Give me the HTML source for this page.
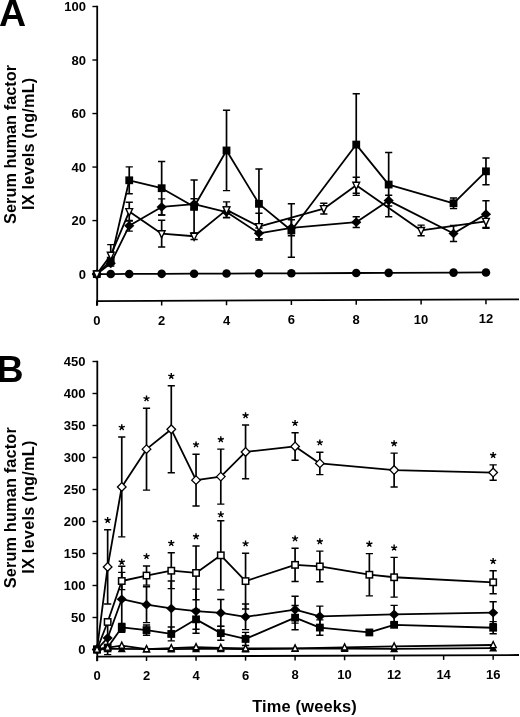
<!DOCTYPE html>
<html>
<head>
<meta charset="utf-8">
<title>Serum human factor IX levels</title>
<style>
html,body{margin:0;padding:0;background:#fff;}
body{width:520px;height:717px;overflow:hidden;position:relative;font-family:"Liberation Sans",sans-serif;}
</style>
</head>
<body>
<svg width="520" height="717" viewBox="0 0 520 717" style="position:absolute;left:0;top:0;display:block;filter:grayscale(1) blur(0.3px)">
<rect width="520" height="717" fill="#fff"/>
<g font-family="'Liberation Sans', sans-serif" font-weight="bold" fill="#000">
<text x="-1.1" y="26" font-size="37.5">A</text>
<text x="-3.4" y="381.5" font-size="37.5">B</text>
<text transform="translate(16,144.4) rotate(-90)" text-anchor="middle" font-size="16.3" letter-spacing="0.05">Serum human factor</text><text transform="translate(34.2,143.8) rotate(-90)" text-anchor="middle" font-size="16.3" letter-spacing="0.17">IX levels (ng/mL)</text>
<text transform="translate(16,507.7) rotate(-90)" text-anchor="middle" font-size="16.3" letter-spacing="0.16">Serum human factor</text><text transform="translate(34.2,507.09999999999997) rotate(-90)" text-anchor="middle" font-size="16.3" letter-spacing="0.24">IX levels (ng/mL)</text>
<text x="304.6" y="712" text-anchor="middle" font-size="16.4" letter-spacing="0.18">Time (weeks)</text>
<path d="M97.2 5.8V305.6" stroke="#000" stroke-width="1.8" fill="none"/>
<path d="M96.4 301.1L519 299.3" stroke="#000" stroke-width="1.8" fill="none"/>
<path d="M92.4 274.1H97.2" stroke="#000" stroke-width="1.4"/>
<text x="86" y="278.8" text-anchor="end" font-size="13">0</text>
<path d="M92.4 220.58H97.2" stroke="#000" stroke-width="1.4"/>
<text x="86" y="225.28" text-anchor="end" font-size="13">20</text>
<path d="M92.4 167.06H97.2" stroke="#000" stroke-width="1.4"/>
<text x="86" y="171.76" text-anchor="end" font-size="13">40</text>
<path d="M92.4 113.54H97.2" stroke="#000" stroke-width="1.4"/>
<text x="86" y="118.24" text-anchor="end" font-size="13">60</text>
<path d="M92.4 60.02H97.2" stroke="#000" stroke-width="1.4"/>
<text x="86" y="64.72" text-anchor="end" font-size="13">80</text>
<path d="M92.4 6.5H97.2" stroke="#000" stroke-width="1.4"/>
<text x="86" y="11.2" text-anchor="end" font-size="13">100</text>
<path d="M96.8 301.1V305.8" stroke="#000" stroke-width="1.5"/>
<text x="96.8" y="325.3" text-anchor="middle" font-size="13">0</text>
<path d="M161.66 300.82V305.52" stroke="#000" stroke-width="1.5"/>
<text x="161.66" y="325" text-anchor="middle" font-size="13">2</text>
<path d="M226.52 300.55V305.25" stroke="#000" stroke-width="1.5"/>
<text x="226.52" y="324.69" text-anchor="middle" font-size="13">4</text>
<path d="M291.38 300.27V304.97" stroke="#000" stroke-width="1.5"/>
<text x="291.38" y="324.39" text-anchor="middle" font-size="13">6</text>
<path d="M356.24 299.99V304.69" stroke="#000" stroke-width="1.5"/>
<text x="356.24" y="324.08" text-anchor="middle" font-size="13">8</text>
<path d="M421.1 299.72V304.42" stroke="#000" stroke-width="1.5"/>
<text x="421.1" y="323.78" text-anchor="middle" font-size="13">10</text>
<path d="M485.96 299.44V304.14" stroke="#000" stroke-width="1.5"/>
<text x="485.96" y="323.47" text-anchor="middle" font-size="13">12</text>
<path d="M97.3 360.8V661" stroke="#000" stroke-width="1.8" fill="none"/>
<path d="M96.5 656.6L519 655" stroke="#000" stroke-width="1.8" fill="none"/>
<path d="M92.5 649.5H97.3" stroke="#000" stroke-width="1.4"/>
<text x="85.5" y="654.2" text-anchor="end" font-size="13">0</text>
<path d="M92.5 617.5H97.3" stroke="#000" stroke-width="1.4"/>
<text x="85.5" y="622.2" text-anchor="end" font-size="13">50</text>
<path d="M92.5 585.5H97.3" stroke="#000" stroke-width="1.4"/>
<text x="85.5" y="590.2" text-anchor="end" font-size="13">100</text>
<path d="M92.5 553.5H97.3" stroke="#000" stroke-width="1.4"/>
<text x="85.5" y="558.2" text-anchor="end" font-size="13">150</text>
<path d="M92.5 521.5H97.3" stroke="#000" stroke-width="1.4"/>
<text x="85.5" y="526.2" text-anchor="end" font-size="13">200</text>
<path d="M92.5 489.5H97.3" stroke="#000" stroke-width="1.4"/>
<text x="85.5" y="494.2" text-anchor="end" font-size="13">250</text>
<path d="M92.5 457.5H97.3" stroke="#000" stroke-width="1.4"/>
<text x="85.5" y="462.2" text-anchor="end" font-size="13">300</text>
<path d="M92.5 425.5H97.3" stroke="#000" stroke-width="1.4"/>
<text x="85.5" y="430.2" text-anchor="end" font-size="13">350</text>
<path d="M92.5 393.5H97.3" stroke="#000" stroke-width="1.4"/>
<text x="85.5" y="398.2" text-anchor="end" font-size="13">400</text>
<path d="M92.5 361.5H97.3" stroke="#000" stroke-width="1.4"/>
<text x="85.5" y="366.2" text-anchor="end" font-size="13">450</text>
<path d="M97 656.6V661.2" stroke="#000" stroke-width="1.5"/>
<text x="97" y="680.2" text-anchor="middle" font-size="13">0</text>
<path d="M146.52 656.41V661.01" stroke="#000" stroke-width="1.5"/>
<text x="146.52" y="680.01" text-anchor="middle" font-size="13">2</text>
<path d="M196.04 656.22V660.82" stroke="#000" stroke-width="1.5"/>
<text x="196.04" y="679.82" text-anchor="middle" font-size="13">4</text>
<path d="M245.56 656.04V660.64" stroke="#000" stroke-width="1.5"/>
<text x="245.56" y="679.64" text-anchor="middle" font-size="13">6</text>
<path d="M295.08 655.85V660.45" stroke="#000" stroke-width="1.5"/>
<text x="295.08" y="679.45" text-anchor="middle" font-size="13">8</text>
<path d="M344.6 655.66V660.26" stroke="#000" stroke-width="1.5"/>
<text x="344.6" y="679.26" text-anchor="middle" font-size="13">10</text>
<path d="M394.12 655.47V660.07" stroke="#000" stroke-width="1.5"/>
<text x="394.12" y="679.07" text-anchor="middle" font-size="13">12</text>
<path d="M443.64 655.29V659.89" stroke="#000" stroke-width="1.5"/>
<text x="443.64" y="678.89" text-anchor="middle" font-size="13">14</text>
<path d="M493.16 655.1V659.7" stroke="#000" stroke-width="1.5"/>
<text x="493.16" y="678.7" text-anchor="middle" font-size="13">16</text>
</g>
<g>

<path d="M129.23 166.92V193.68" stroke="#000" stroke-width="1.7" fill="none"/>
<path d="M125.63 166.92H132.83M125.63 193.68H132.83" stroke="#000" stroke-width="1.4" fill="none"/>
<path d="M161.66 161.44V214.96" stroke="#000" stroke-width="1.7" fill="none"/>
<path d="M158.06 161.44H165.26M158.06 214.96H165.26" stroke="#000" stroke-width="1.4" fill="none"/>
<path d="M194.09 180.03V233.55" stroke="#000" stroke-width="1.7" fill="none"/>
<path d="M190.49 180.03H197.69M190.49 233.55H197.69" stroke="#000" stroke-width="1.4" fill="none"/>
<path d="M226.52 110.32V190.6" stroke="#000" stroke-width="1.7" fill="none"/>
<path d="M222.92 110.32H230.12M222.92 190.6H230.12" stroke="#000" stroke-width="1.4" fill="none"/>
<path d="M258.95 169.05V238.63" stroke="#000" stroke-width="1.7" fill="none"/>
<path d="M255.35 169.05H262.55M255.35 238.63H262.55" stroke="#000" stroke-width="1.4" fill="none"/>
<path d="M291.38 203.71V257.23" stroke="#000" stroke-width="1.7" fill="none"/>
<path d="M287.78 203.71H294.98M287.78 257.23H294.98" stroke="#000" stroke-width="1.4" fill="none"/>
<path d="M356.24 93.72V195.41" stroke="#000" stroke-width="1.7" fill="none"/>
<path d="M352.64 93.72H359.84M352.64 195.41H359.84" stroke="#000" stroke-width="1.4" fill="none"/>
<path d="M388.67 152.45V216.68" stroke="#000" stroke-width="1.7" fill="none"/>
<path d="M385.07 152.45H392.27M385.07 216.68H392.27" stroke="#000" stroke-width="1.4" fill="none"/>
<path d="M453.53 197.94V208.65" stroke="#000" stroke-width="1.7" fill="none"/>
<path d="M449.93 197.94H457.13M449.93 208.65H457.13" stroke="#000" stroke-width="1.4" fill="none"/>
<path d="M485.96 157.93V184.69" stroke="#000" stroke-width="1.7" fill="none"/>
<path d="M482.36 157.93H489.56M482.36 184.69H489.56" stroke="#000" stroke-width="1.4" fill="none"/>
<path d="M129.23 220.44V231.15" stroke="#000" stroke-width="1.7" fill="none"/>
<path d="M125.63 220.44H132.83M125.63 231.15H132.83" stroke="#000" stroke-width="1.4" fill="none"/>
<path d="M161.66 198.9V214.96" stroke="#000" stroke-width="1.7" fill="none"/>
<path d="M158.06 198.9H165.26M158.06 214.96H165.26" stroke="#000" stroke-width="1.4" fill="none"/>
<path d="M194.09 198.76V209.47" stroke="#000" stroke-width="1.7" fill="none"/>
<path d="M190.49 198.76H197.69M190.49 209.47H197.69" stroke="#000" stroke-width="1.4" fill="none"/>
<path d="M226.52 206.66V217.36" stroke="#000" stroke-width="1.7" fill="none"/>
<path d="M222.92 206.66H230.12M222.92 217.36H230.12" stroke="#000" stroke-width="1.4" fill="none"/>
<path d="M258.95 227.93V238.63" stroke="#000" stroke-width="1.7" fill="none"/>
<path d="M255.35 227.93H262.55M255.35 238.63H262.55" stroke="#000" stroke-width="1.4" fill="none"/>
<path d="M291.38 219.76V235.82" stroke="#000" stroke-width="1.7" fill="none"/>
<path d="M287.78 219.76H294.98M287.78 235.82H294.98" stroke="#000" stroke-width="1.4" fill="none"/>
<path d="M356.24 216.81V227.52" stroke="#000" stroke-width="1.7" fill="none"/>
<path d="M352.64 216.81H359.84M352.64 227.52H359.84" stroke="#000" stroke-width="1.4" fill="none"/>
<path d="M388.67 195.27V205.97" stroke="#000" stroke-width="1.7" fill="none"/>
<path d="M385.07 195.27H392.27M385.07 205.97H392.27" stroke="#000" stroke-width="1.4" fill="none"/>
<path d="M453.53 225.5V241.56" stroke="#000" stroke-width="1.7" fill="none"/>
<path d="M449.93 225.5H457.13M449.93 241.56H457.13" stroke="#000" stroke-width="1.4" fill="none"/>
<path d="M485.96 200.75V227.51" stroke="#000" stroke-width="1.7" fill="none"/>
<path d="M482.36 200.75H489.56M482.36 227.51H489.56" stroke="#000" stroke-width="1.4" fill="none"/>
<path d="M110.74 244.61V266.01" stroke="#000" stroke-width="1.7" fill="none"/>
<path d="M107.14 244.61H114.34M107.14 266.01H114.34" stroke="#000" stroke-width="1.4" fill="none"/>
<path d="M129.23 202.25V220.98" stroke="#000" stroke-width="1.7" fill="none"/>
<path d="M125.63 202.25H132.83M125.63 220.98H132.83" stroke="#000" stroke-width="1.4" fill="none"/>
<path d="M161.66 220.31V247.07" stroke="#000" stroke-width="1.7" fill="none"/>
<path d="M158.06 220.31H165.26M158.06 247.07H165.26" stroke="#000" stroke-width="1.4" fill="none"/>
<path d="M194.09 233.02V239.44" stroke="#000" stroke-width="1.7" fill="none"/>
<path d="M190.49 233.02H197.69M190.49 239.44H197.69" stroke="#000" stroke-width="1.4" fill="none"/>
<path d="M226.52 201.84V217.89" stroke="#000" stroke-width="1.7" fill="none"/>
<path d="M222.92 201.84H230.12M222.92 217.89H230.12" stroke="#000" stroke-width="1.4" fill="none"/>
<path d="M258.95 213.21V239.97" stroke="#000" stroke-width="1.7" fill="none"/>
<path d="M255.35 213.21H262.55M255.35 239.97H262.55" stroke="#000" stroke-width="1.4" fill="none"/>
<path d="M323.81 203.3V214.01" stroke="#000" stroke-width="1.7" fill="none"/>
<path d="M320.21 203.3H327.41M320.21 214.01H327.41" stroke="#000" stroke-width="1.4" fill="none"/>
<path d="M356.24 177.21V193.27" stroke="#000" stroke-width="1.7" fill="none"/>
<path d="M352.64 177.21H359.84M352.64 193.27H359.84" stroke="#000" stroke-width="1.4" fill="none"/>
<path d="M421.1 225.11V235.81" stroke="#000" stroke-width="1.7" fill="none"/>
<path d="M417.5 225.11H424.7M417.5 235.81H424.7" stroke="#000" stroke-width="1.4" fill="none"/>
<path d="M485.96 214.4V228.31" stroke="#000" stroke-width="1.7" fill="none"/>
<path d="M482.36 214.4H489.56M482.36 228.31H489.56" stroke="#000" stroke-width="1.4" fill="none"/>
<path d="M96.8 274.1L110.74 274.04L129.23 273.96L161.66 273.83L194.09 273.69L226.52 273.56L258.95 273.42L291.38 273.28L356.24 273.01L388.67 272.87L453.53 272.6L485.96 272.47" stroke="#000" stroke-width="1.8" fill="none" stroke-linejoin="round"/>
<circle cx="96.8" cy="274.1" r="4.3" fill="#000"/>
<circle cx="110.74" cy="274.04" r="4.3" fill="#000"/>
<circle cx="129.23" cy="273.96" r="4.3" fill="#000"/>
<circle cx="161.66" cy="273.83" r="4.3" fill="#000"/>
<circle cx="194.09" cy="273.69" r="4.3" fill="#000"/>
<circle cx="226.52" cy="273.56" r="4.3" fill="#000"/>
<circle cx="258.95" cy="273.42" r="4.3" fill="#000"/>
<circle cx="291.38" cy="273.28" r="4.3" fill="#000"/>
<circle cx="356.24" cy="273.01" r="4.3" fill="#000"/>
<circle cx="388.67" cy="272.87" r="4.3" fill="#000"/>
<circle cx="453.53" cy="272.6" r="4.3" fill="#000"/>
<circle cx="485.96" cy="272.47" r="4.3" fill="#000"/>
<path d="M96.8 274.1L110.74 260.66L129.23 180.3L161.66 188.2L194.09 206.79L226.52 150.46L258.95 203.84L291.38 230.47L356.24 144.56L388.67 184.57L453.53 203.29L485.96 171.31" stroke="#000" stroke-width="1.8" fill="none" stroke-linejoin="round"/>
<rect x="92.9" y="270.2" width="7.8" height="7.8" fill="#000"/>
<rect x="106.84" y="256.76" width="7.8" height="7.8" fill="#000"/>
<rect x="125.33" y="176.4" width="7.8" height="7.8" fill="#000"/>
<rect x="157.76" y="184.3" width="7.8" height="7.8" fill="#000"/>
<rect x="190.19" y="202.89" width="7.8" height="7.8" fill="#000"/>
<rect x="222.62" y="146.56" width="7.8" height="7.8" fill="#000"/>
<rect x="255.05" y="199.94" width="7.8" height="7.8" fill="#000"/>
<rect x="287.48" y="226.57" width="7.8" height="7.8" fill="#000"/>
<rect x="352.34" y="140.66" width="7.8" height="7.8" fill="#000"/>
<rect x="384.77" y="180.67" width="7.8" height="7.8" fill="#000"/>
<rect x="449.63" y="199.39" width="7.8" height="7.8" fill="#000"/>
<rect x="482.06" y="167.41" width="7.8" height="7.8" fill="#000"/>
<path d="M96.8 274.1L110.74 263.34L129.23 225.8L161.66 206.93L194.09 204.12L226.52 212.01L258.95 233.28L291.38 227.79L356.24 222.17L388.67 200.62L453.53 233.53L485.96 214.13" stroke="#000" stroke-width="1.8" fill="none" stroke-linejoin="round"/>
<path d="M91.7 274.1L96.8 269.3L101.9 274.1L96.8 278.9Z" fill="#000"/>
<path d="M105.64 263.34L110.74 258.54L115.84 263.34L110.74 268.14Z" fill="#000"/>
<path d="M124.13 225.8L129.23 221L134.33 225.8L129.23 230.6Z" fill="#000"/>
<path d="M156.56 206.93L161.66 202.13L166.76 206.93L161.66 211.73Z" fill="#000"/>
<path d="M188.99 204.12L194.09 199.32L199.19 204.12L194.09 208.92Z" fill="#000"/>
<path d="M221.42 212.01L226.52 207.21L231.62 212.01L226.52 216.81Z" fill="#000"/>
<path d="M253.85 233.28L258.95 228.48L264.05 233.28L258.95 238.08Z" fill="#000"/>
<path d="M286.28 227.79L291.38 222.99L296.48 227.79L291.38 232.59Z" fill="#000"/>
<path d="M351.14 222.17L356.24 217.37L361.34 222.17L356.24 226.97Z" fill="#000"/>
<path d="M383.57 200.62L388.67 195.82L393.77 200.62L388.67 205.42Z" fill="#000"/>
<path d="M448.43 233.53L453.53 228.73L458.63 233.53L453.53 238.33Z" fill="#000"/>
<path d="M480.86 214.13L485.96 209.33L491.06 214.13L485.96 218.93Z" fill="#000"/>
<path d="M96.8 274.1L110.74 255.31L129.23 211.61L161.66 233.69L194.09 236.23L226.52 209.87L258.95 226.59L323.81 208.65L356.24 185.24L421.1 230.46L485.96 221.35" stroke="#000" stroke-width="1.8" fill="none" stroke-linejoin="round"/>
<path d="M93.4 271.1L100.2 271.1L96.8 278.3Z" fill="#fff" stroke="#000" stroke-width="1.4" stroke-linejoin="miter"/>
<path d="M107.34 252.31L114.14 252.31L110.74 259.51Z" fill="#fff" stroke="#000" stroke-width="1.4" stroke-linejoin="miter"/>
<path d="M125.83 208.61L132.63 208.61L129.23 215.81Z" fill="#fff" stroke="#000" stroke-width="1.4" stroke-linejoin="miter"/>
<path d="M158.26 230.69L165.06 230.69L161.66 237.89Z" fill="#fff" stroke="#000" stroke-width="1.4" stroke-linejoin="miter"/>
<path d="M190.69 233.23L197.49 233.23L194.09 240.43Z" fill="#fff" stroke="#000" stroke-width="1.4" stroke-linejoin="miter"/>
<path d="M223.12 206.87L229.92 206.87L226.52 214.07Z" fill="#fff" stroke="#000" stroke-width="1.4" stroke-linejoin="miter"/>
<path d="M255.55 223.59L262.35 223.59L258.95 230.79Z" fill="#fff" stroke="#000" stroke-width="1.4" stroke-linejoin="miter"/>
<path d="M320.41 205.65L327.21 205.65L323.81 212.85Z" fill="#fff" stroke="#000" stroke-width="1.4" stroke-linejoin="miter"/>
<path d="M352.84 182.24L359.64 182.24L356.24 189.44Z" fill="#fff" stroke="#000" stroke-width="1.4" stroke-linejoin="miter"/>
<path d="M417.7 227.46L424.5 227.46L421.1 234.66Z" fill="#fff" stroke="#000" stroke-width="1.4" stroke-linejoin="miter"/>
<path d="M482.56 218.35L489.36 218.35L485.96 225.55Z" fill="#fff" stroke="#000" stroke-width="1.4" stroke-linejoin="miter"/>
</g>
<g>
<path d="M107.65 529.81V604.05" stroke="#000" stroke-width="1.7" fill="none"/>
<path d="M104.05 529.81H111.25M104.05 604.05H111.25" stroke="#000" stroke-width="1.4" fill="none"/>
<path d="M121.76 437V536.84" stroke="#000" stroke-width="1.7" fill="none"/>
<path d="M118.16 437H125.36M118.16 536.84H125.36" stroke="#000" stroke-width="1.4" fill="none"/>
<path d="M146.52 408.18V490.1" stroke="#000" stroke-width="1.7" fill="none"/>
<path d="M142.92 408.18H150.12M142.92 490.1H150.12" stroke="#000" stroke-width="1.4" fill="none"/>
<path d="M171.28 385.76V472.8" stroke="#000" stroke-width="1.7" fill="none"/>
<path d="M167.68 385.76H174.88M167.68 472.8H174.88" stroke="#000" stroke-width="1.4" fill="none"/>
<path d="M196.04 454.22V506.06" stroke="#000" stroke-width="1.7" fill="none"/>
<path d="M192.44 454.22H199.64M192.44 506.06H199.64" stroke="#000" stroke-width="1.4" fill="none"/>
<path d="M220.8 449.08V504.12" stroke="#000" stroke-width="1.7" fill="none"/>
<path d="M217.2 449.08H224.4M217.2 504.12H224.4" stroke="#000" stroke-width="1.4" fill="none"/>
<path d="M245.56 425.06V478.82" stroke="#000" stroke-width="1.7" fill="none"/>
<path d="M241.96 425.06H249.16M241.96 478.82H249.16" stroke="#000" stroke-width="1.4" fill="none"/>
<path d="M295.08 432.7V460.22" stroke="#000" stroke-width="1.7" fill="none"/>
<path d="M291.48 432.7H298.68M291.48 460.22H298.68" stroke="#000" stroke-width="1.4" fill="none"/>
<path d="M319.84 452.2V474.6" stroke="#000" stroke-width="1.7" fill="none"/>
<path d="M316.24 452.2H323.44M316.24 474.6H323.44" stroke="#000" stroke-width="1.4" fill="none"/>
<path d="M394.12 453.1V487.02" stroke="#000" stroke-width="1.7" fill="none"/>
<path d="M390.52 453.1H397.72M390.52 487.02H397.72" stroke="#000" stroke-width="1.4" fill="none"/>
<path d="M493.16 464.86V480.22" stroke="#000" stroke-width="1.7" fill="none"/>
<path d="M489.56 464.86H496.76M489.56 480.22H496.76" stroke="#000" stroke-width="1.4" fill="none"/>
<path d="M121.76 572.36V589.64" stroke="#000" stroke-width="1.7" fill="none"/>
<path d="M118.16 572.36H125.36M118.16 589.64H125.36" stroke="#000" stroke-width="1.4" fill="none"/>
<path d="M146.52 565.94V585.14" stroke="#000" stroke-width="1.7" fill="none"/>
<path d="M142.92 565.94H150.12M142.92 585.14H150.12" stroke="#000" stroke-width="1.4" fill="none"/>
<path d="M171.28 552.8V588.64" stroke="#000" stroke-width="1.7" fill="none"/>
<path d="M167.68 552.8H174.88M167.68 588.64H174.88" stroke="#000" stroke-width="1.4" fill="none"/>
<path d="M196.04 546.06V599.82" stroke="#000" stroke-width="1.7" fill="none"/>
<path d="M192.44 546.06H199.64M192.44 599.82H199.64" stroke="#000" stroke-width="1.4" fill="none"/>
<path d="M220.8 520.76V589.88" stroke="#000" stroke-width="1.7" fill="none"/>
<path d="M217.2 520.76H224.4M217.2 589.88H224.4" stroke="#000" stroke-width="1.4" fill="none"/>
<path d="M245.56 553.19V609" stroke="#000" stroke-width="1.7" fill="none"/>
<path d="M241.96 553.19H249.16M241.96 609H249.16" stroke="#000" stroke-width="1.4" fill="none"/>
<path d="M295.08 548.22V581.5" stroke="#000" stroke-width="1.7" fill="none"/>
<path d="M291.48 548.22H298.68M291.48 581.5H298.68" stroke="#000" stroke-width="1.4" fill="none"/>
<path d="M319.84 551.08V581.8" stroke="#000" stroke-width="1.7" fill="none"/>
<path d="M316.24 551.08H323.44M316.24 581.8H323.44" stroke="#000" stroke-width="1.4" fill="none"/>
<path d="M369.36 553.6V595.84" stroke="#000" stroke-width="1.7" fill="none"/>
<path d="M365.76 553.6H372.96M365.76 595.84H372.96" stroke="#000" stroke-width="1.4" fill="none"/>
<path d="M394.12 557.42V597.1" stroke="#000" stroke-width="1.7" fill="none"/>
<path d="M390.52 557.42H397.72M390.52 597.1H397.72" stroke="#000" stroke-width="1.4" fill="none"/>
<path d="M493.16 570.78V593.82" stroke="#000" stroke-width="1.7" fill="none"/>
<path d="M489.56 570.78H496.76M489.56 593.82H496.76" stroke="#000" stroke-width="1.4" fill="none"/>
<path d="M107.65 621.33V654.61" stroke="#000" stroke-width="1.7" fill="none"/>
<path d="M104.05 621.33H111.25M104.05 654.61H111.25" stroke="#000" stroke-width="1.4" fill="none"/>
<path d="M121.76 566.28V632.2" stroke="#000" stroke-width="1.7" fill="none"/>
<path d="M118.16 566.28H125.36M118.16 632.2H125.36" stroke="#000" stroke-width="1.4" fill="none"/>
<path d="M146.52 586.74V622.58" stroke="#000" stroke-width="1.7" fill="none"/>
<path d="M142.92 586.74H150.12M142.92 622.58H150.12" stroke="#000" stroke-width="1.4" fill="none"/>
<path d="M171.28 580.96V636" stroke="#000" stroke-width="1.7" fill="none"/>
<path d="M167.68 580.96H174.88M167.68 636H174.88" stroke="#000" stroke-width="1.4" fill="none"/>
<path d="M196.04 589.13V633.29" stroke="#000" stroke-width="1.7" fill="none"/>
<path d="M192.44 589.13H199.64M192.44 633.29H199.64" stroke="#000" stroke-width="1.4" fill="none"/>
<path d="M220.8 599.48V626.36" stroke="#000" stroke-width="1.7" fill="none"/>
<path d="M217.2 599.48H224.4M217.2 626.36H224.4" stroke="#000" stroke-width="1.4" fill="none"/>
<path d="M245.56 604.07V629.67" stroke="#000" stroke-width="1.7" fill="none"/>
<path d="M241.96 604.07H249.16M241.96 629.67H249.16" stroke="#000" stroke-width="1.4" fill="none"/>
<path d="M295.08 596.22V623.1" stroke="#000" stroke-width="1.7" fill="none"/>
<path d="M291.48 596.22H298.68M291.48 623.1H298.68" stroke="#000" stroke-width="1.4" fill="none"/>
<path d="M319.84 606.12V626.6" stroke="#000" stroke-width="1.7" fill="none"/>
<path d="M316.24 606.12H323.44M316.24 626.6H323.44" stroke="#000" stroke-width="1.4" fill="none"/>
<path d="M394.12 605.42V623.34" stroke="#000" stroke-width="1.7" fill="none"/>
<path d="M390.52 605.42H397.72M390.52 623.34H397.72" stroke="#000" stroke-width="1.4" fill="none"/>
<path d="M493.16 601.82V623.58" stroke="#000" stroke-width="1.7" fill="none"/>
<path d="M489.56 601.82H496.76M489.56 623.58H496.76" stroke="#000" stroke-width="1.4" fill="none"/>
<path d="M121.76 623.56V631.24" stroke="#000" stroke-width="1.7" fill="none"/>
<path d="M118.16 623.56H125.36M118.16 631.24H125.36" stroke="#000" stroke-width="1.4" fill="none"/>
<path d="M146.52 624.95V635.19" stroke="#000" stroke-width="1.7" fill="none"/>
<path d="M142.92 624.95H150.12M142.92 635.19H150.12" stroke="#000" stroke-width="1.4" fill="none"/>
<path d="M171.28 627.04V640.86" stroke="#000" stroke-width="1.7" fill="none"/>
<path d="M167.68 627.04H174.88M167.68 640.86H174.88" stroke="#000" stroke-width="1.4" fill="none"/>
<path d="M196.04 609.42V629.26" stroke="#000" stroke-width="1.7" fill="none"/>
<path d="M192.44 609.42H199.64M192.44 629.26H199.64" stroke="#000" stroke-width="1.4" fill="none"/>
<path d="M220.8 626.1V640.18" stroke="#000" stroke-width="1.7" fill="none"/>
<path d="M217.2 626.1H224.4M217.2 640.18H224.4" stroke="#000" stroke-width="1.4" fill="none"/>
<path d="M245.56 632.36V645.54" stroke="#000" stroke-width="1.7" fill="none"/>
<path d="M241.96 632.36H249.16M241.96 645.54H249.16" stroke="#000" stroke-width="1.4" fill="none"/>
<path d="M295.08 605.5V629.82" stroke="#000" stroke-width="1.7" fill="none"/>
<path d="M291.48 605.5H298.68M291.48 629.82H298.68" stroke="#000" stroke-width="1.4" fill="none"/>
<path d="M319.84 619.88V635.24" stroke="#000" stroke-width="1.7" fill="none"/>
<path d="M316.24 619.88H323.44M316.24 635.24H323.44" stroke="#000" stroke-width="1.4" fill="none"/>
<path d="M493.16 621.66V633.82" stroke="#000" stroke-width="1.7" fill="none"/>
<path d="M489.56 621.66H496.76M489.56 633.82H496.76" stroke="#000" stroke-width="1.4" fill="none"/>


<path d="M97 649.5L107.65 566.93L121.76 486.92L146.52 449.14L171.28 429.28L196.04 480.14L220.8 476.6L245.56 451.94L295.08 446.46L319.84 463.4L394.12 470.06L493.16 472.54" stroke="#000" stroke-width="1.8" fill="none" stroke-linejoin="round"/>
<path d="M92.7 649.5L97 645.2L101.3 649.5L97 653.8Z" fill="#fff" stroke="#000" stroke-width="1.3"/>
<path d="M103.35 566.93L107.65 562.63L111.95 566.93L107.65 571.23Z" fill="#fff" stroke="#000" stroke-width="1.3"/>
<path d="M117.46 486.92L121.76 482.62L126.06 486.92L121.76 491.22Z" fill="#fff" stroke="#000" stroke-width="1.3"/>
<path d="M142.22 449.14L146.52 444.84L150.82 449.14L146.52 453.44Z" fill="#fff" stroke="#000" stroke-width="1.3"/>
<path d="M166.98 429.28L171.28 424.98L175.58 429.28L171.28 433.58Z" fill="#fff" stroke="#000" stroke-width="1.3"/>
<path d="M191.74 480.14L196.04 475.84L200.34 480.14L196.04 484.44Z" fill="#fff" stroke="#000" stroke-width="1.3"/>
<path d="M216.5 476.6L220.8 472.3L225.1 476.6L220.8 480.9Z" fill="#fff" stroke="#000" stroke-width="1.3"/>
<path d="M241.26 451.94L245.56 447.64L249.86 451.94L245.56 456.24Z" fill="#fff" stroke="#000" stroke-width="1.3"/>
<path d="M290.78 446.46L295.08 442.16L299.38 446.46L295.08 450.76Z" fill="#fff" stroke="#000" stroke-width="1.3"/>
<path d="M315.54 463.4L319.84 459.1L324.14 463.4L319.84 467.7Z" fill="#fff" stroke="#000" stroke-width="1.3"/>
<path d="M389.82 470.06L394.12 465.76L398.42 470.06L394.12 474.36Z" fill="#fff" stroke="#000" stroke-width="1.3"/>
<path d="M488.86 472.54L493.16 468.24L497.46 472.54L493.16 476.84Z" fill="#fff" stroke="#000" stroke-width="1.3"/>
<path d="M97 649.5L107.65 621.97L121.76 581L146.52 575.54L171.28 570.72L196.04 572.94L220.8 555.32L245.56 581.09L295.08 564.86L319.84 566.44L369.36 574.72L394.12 577.26L493.16 582.3" stroke="#000" stroke-width="1.8" fill="none" stroke-linejoin="round"/>
<rect x="93.8" y="646.3" width="6.4" height="6.4" fill="#fff" stroke="#000" stroke-width="1.5"/>
<rect x="104.45" y="618.77" width="6.4" height="6.4" fill="#fff" stroke="#000" stroke-width="1.5"/>
<rect x="118.56" y="577.8" width="6.4" height="6.4" fill="#fff" stroke="#000" stroke-width="1.5"/>
<rect x="143.32" y="572.34" width="6.4" height="6.4" fill="#fff" stroke="#000" stroke-width="1.5"/>
<rect x="168.08" y="567.52" width="6.4" height="6.4" fill="#fff" stroke="#000" stroke-width="1.5"/>
<rect x="192.84" y="569.74" width="6.4" height="6.4" fill="#fff" stroke="#000" stroke-width="1.5"/>
<rect x="217.6" y="552.12" width="6.4" height="6.4" fill="#fff" stroke="#000" stroke-width="1.5"/>
<rect x="242.36" y="577.89" width="6.4" height="6.4" fill="#fff" stroke="#000" stroke-width="1.5"/>
<rect x="291.88" y="561.66" width="6.4" height="6.4" fill="#fff" stroke="#000" stroke-width="1.5"/>
<rect x="316.64" y="563.24" width="6.4" height="6.4" fill="#fff" stroke="#000" stroke-width="1.5"/>
<rect x="366.16" y="571.52" width="6.4" height="6.4" fill="#fff" stroke="#000" stroke-width="1.5"/>
<rect x="390.92" y="574.06" width="6.4" height="6.4" fill="#fff" stroke="#000" stroke-width="1.5"/>
<rect x="489.96" y="579.1" width="6.4" height="6.4" fill="#fff" stroke="#000" stroke-width="1.5"/>
<path d="M97 649.5L107.65 637.97L121.76 599.24L146.52 604.66L171.28 608.48L196.04 611.21L220.8 612.92L245.56 616.87L295.08 609.66L319.84 616.36L394.12 614.38L493.16 612.7" stroke="#000" stroke-width="1.8" fill="none" stroke-linejoin="round"/>
<path d="M91.9 649.5L97 644.7L102.1 649.5L97 654.3Z" fill="#000"/>
<path d="M102.55 637.97L107.65 633.17L112.75 637.97L107.65 642.77Z" fill="#000"/>
<path d="M116.66 599.24L121.76 594.44L126.86 599.24L121.76 604.04Z" fill="#000"/>
<path d="M141.42 604.66L146.52 599.86L151.62 604.66L146.52 609.46Z" fill="#000"/>
<path d="M166.18 608.48L171.28 603.68L176.38 608.48L171.28 613.28Z" fill="#000"/>
<path d="M190.94 611.21L196.04 606.41L201.14 611.21L196.04 616.01Z" fill="#000"/>
<path d="M215.7 612.92L220.8 608.12L225.9 612.92L220.8 617.72Z" fill="#000"/>
<path d="M240.46 616.87L245.56 612.07L250.66 616.87L245.56 621.67Z" fill="#000"/>
<path d="M289.98 609.66L295.08 604.86L300.18 609.66L295.08 614.46Z" fill="#000"/>
<path d="M314.74 616.36L319.84 611.56L324.94 616.36L319.84 621.16Z" fill="#000"/>
<path d="M389.02 614.38L394.12 609.58L399.22 614.38L394.12 619.18Z" fill="#000"/>
<path d="M488.06 612.7L493.16 607.9L498.26 612.7L493.16 617.5Z" fill="#000"/>
<path d="M97 649.5L107.65 647.57L121.76 627.4L146.52 630.07L171.28 633.95L196.04 619.34L220.8 633.14L245.56 638.95L295.08 617.66L319.84 627.56L369.36 632.45L394.12 624.81L493.16 627.74" stroke="#000" stroke-width="1.8" fill="none" stroke-linejoin="round"/>
<rect x="93.1" y="645.6" width="7.8" height="7.8" fill="#000"/>
<rect x="103.75" y="643.67" width="7.8" height="7.8" fill="#000"/>
<rect x="117.86" y="623.5" width="7.8" height="7.8" fill="#000"/>
<rect x="142.62" y="626.17" width="7.8" height="7.8" fill="#000"/>
<rect x="167.38" y="630.05" width="7.8" height="7.8" fill="#000"/>
<rect x="192.14" y="615.44" width="7.8" height="7.8" fill="#000"/>
<rect x="216.9" y="629.24" width="7.8" height="7.8" fill="#000"/>
<rect x="241.66" y="635.05" width="7.8" height="7.8" fill="#000"/>
<rect x="291.18" y="613.76" width="7.8" height="7.8" fill="#000"/>
<rect x="315.94" y="623.66" width="7.8" height="7.8" fill="#000"/>
<rect x="365.46" y="628.55" width="7.8" height="7.8" fill="#000"/>
<rect x="390.22" y="620.91" width="7.8" height="7.8" fill="#000"/>
<rect x="489.26" y="623.84" width="7.8" height="7.8" fill="#000"/>
<path d="M97 649.5L107.65 648.85L121.76 648.84L146.52 649.14L171.28 649.12L196.04 648.78L220.8 648.76L245.56 649.06L295.08 648.7L344.6 648.66L394.12 648.94L493.16 648.22" stroke="#000" stroke-width="1.8" fill="none" stroke-linejoin="round"/>
<path d="M93 652.9L101 652.9L97 645.1Z" fill="#000"/>
<path d="M103.65 652.25L111.65 652.25L107.65 644.45Z" fill="#000"/>
<path d="M117.76 652.24L125.76 652.24L121.76 644.44Z" fill="#000"/>
<path d="M142.52 652.54L150.52 652.54L146.52 644.74Z" fill="#000"/>
<path d="M167.28 652.52L175.28 652.52L171.28 644.72Z" fill="#000"/>
<path d="M192.04 652.18L200.04 652.18L196.04 644.38Z" fill="#000"/>
<path d="M216.8 652.16L224.8 652.16L220.8 644.36Z" fill="#000"/>
<path d="M241.56 652.46L249.56 652.46L245.56 644.66Z" fill="#000"/>
<path d="M291.08 652.1L299.08 652.1L295.08 644.3Z" fill="#000"/>
<path d="M340.6 652.06L348.6 652.06L344.6 644.26Z" fill="#000"/>
<path d="M390.12 652.34L398.12 652.34L394.12 644.54Z" fill="#000"/>
<path d="M489.16 651.62L497.16 651.62L493.16 643.82Z" fill="#000"/>
<path d="M97 649.5L107.65 647.57L121.76 645.64L146.52 649.14L171.28 648.16L196.04 647.18L220.8 647.8L245.56 648.42L295.08 648.38L344.6 647.38L394.12 646.38L493.16 645.02" stroke="#000" stroke-width="1.8" fill="none" stroke-linejoin="round"/>
<path d="M94 652.1L100 652.1L97 646Z" fill="#fff" stroke="#000" stroke-width="1.4" stroke-linejoin="miter"/>
<path d="M104.65 650.17L110.65 650.17L107.65 644.07Z" fill="#fff" stroke="#000" stroke-width="1.4" stroke-linejoin="miter"/>
<path d="M118.76 648.24L124.76 648.24L121.76 642.14Z" fill="#fff" stroke="#000" stroke-width="1.4" stroke-linejoin="miter"/>
<path d="M143.52 651.74L149.52 651.74L146.52 645.64Z" fill="#fff" stroke="#000" stroke-width="1.4" stroke-linejoin="miter"/>
<path d="M168.28 650.76L174.28 650.76L171.28 644.66Z" fill="#fff" stroke="#000" stroke-width="1.4" stroke-linejoin="miter"/>
<path d="M193.04 649.78L199.04 649.78L196.04 643.68Z" fill="#fff" stroke="#000" stroke-width="1.4" stroke-linejoin="miter"/>
<path d="M217.8 650.4L223.8 650.4L220.8 644.3Z" fill="#fff" stroke="#000" stroke-width="1.4" stroke-linejoin="miter"/>
<path d="M242.56 651.02L248.56 651.02L245.56 644.92Z" fill="#fff" stroke="#000" stroke-width="1.4" stroke-linejoin="miter"/>
<path d="M292.08 650.98L298.08 650.98L295.08 644.88Z" fill="#fff" stroke="#000" stroke-width="1.4" stroke-linejoin="miter"/>
<path d="M341.6 649.98L347.6 649.98L344.6 643.88Z" fill="#fff" stroke="#000" stroke-width="1.4" stroke-linejoin="miter"/>
<path d="M391.12 648.98L397.12 648.98L394.12 642.88Z" fill="#fff" stroke="#000" stroke-width="1.4" stroke-linejoin="miter"/>
<path d="M490.16 647.62L496.16 647.62L493.16 641.52Z" fill="#fff" stroke="#000" stroke-width="1.4" stroke-linejoin="miter"/>
<path d="M107.65 520.21L107.65 517.01M107.65 520.21L110.69 519.22M107.65 520.21L109.53 522.8M107.65 520.21L105.77 522.8M107.65 520.21L104.6 519.22" stroke="#000" stroke-width="1.4" fill="none"/>
<path d="M121.76 427.4L121.76 424.2M121.76 427.4L124.8 426.41M121.76 427.4L123.64 429.99M121.76 427.4L119.88 429.99M121.76 427.4L118.72 426.41" stroke="#000" stroke-width="1.4" fill="none"/>
<path d="M146.52 398.58L146.52 395.38M146.52 398.58L149.56 397.59M146.52 398.58L148.4 401.17M146.52 398.58L144.64 401.17M146.52 398.58L143.48 397.59" stroke="#000" stroke-width="1.4" fill="none"/>
<path d="M171.28 376.16L171.28 372.96M171.28 376.16L174.32 375.17M171.28 376.16L173.16 378.75M171.28 376.16L169.4 378.75M171.28 376.16L168.24 375.17" stroke="#000" stroke-width="1.4" fill="none"/>
<path d="M196.04 444.62L196.04 441.42M196.04 444.62L199.08 443.63M196.04 444.62L197.92 447.21M196.04 444.62L194.16 447.21M196.04 444.62L193 443.63" stroke="#000" stroke-width="1.4" fill="none"/>
<path d="M220.8 439.48L220.8 436.28M220.8 439.48L223.84 438.49M220.8 439.48L222.68 442.07M220.8 439.48L218.92 442.07M220.8 439.48L217.76 438.49" stroke="#000" stroke-width="1.4" fill="none"/>
<path d="M245.56 415.46L245.56 412.26M245.56 415.46L248.6 414.47M245.56 415.46L247.44 418.05M245.56 415.46L243.68 418.05M245.56 415.46L242.52 414.47" stroke="#000" stroke-width="1.4" fill="none"/>
<path d="M295.08 423.1L295.08 419.9M295.08 423.1L298.12 422.11M295.08 423.1L296.96 425.69M295.08 423.1L293.2 425.69M295.08 423.1L292.04 422.11" stroke="#000" stroke-width="1.4" fill="none"/>
<path d="M319.84 442.6L319.84 439.4M319.84 442.6L322.88 441.61M319.84 442.6L321.72 445.19M319.84 442.6L317.96 445.19M319.84 442.6L316.8 441.61" stroke="#000" stroke-width="1.4" fill="none"/>
<path d="M394.12 443.5L394.12 440.3M394.12 443.5L397.16 442.51M394.12 443.5L396 446.09M394.12 443.5L392.24 446.09M394.12 443.5L391.08 442.51" stroke="#000" stroke-width="1.4" fill="none"/>
<path d="M493.16 455.26L493.16 452.06M493.16 455.26L496.2 454.27M493.16 455.26L495.04 457.85M493.16 455.26L491.28 457.85M493.16 455.26L490.12 454.27" stroke="#000" stroke-width="1.4" fill="none"/>
<path d="M121.76 561.96L121.76 558.76M121.76 561.96L124.8 560.97M121.76 561.96L123.64 564.55M121.76 561.96L119.88 564.55M121.76 561.96L118.72 560.97" stroke="#000" stroke-width="1.4" fill="none"/>
<path d="M146.52 556.34L146.52 553.14M146.52 556.34L149.56 555.35M146.52 556.34L148.4 558.93M146.52 556.34L144.64 558.93M146.52 556.34L143.48 555.35" stroke="#000" stroke-width="1.4" fill="none"/>
<path d="M171.28 543.2L171.28 540M171.28 543.2L174.32 542.21M171.28 543.2L173.16 545.79M171.28 543.2L169.4 545.79M171.28 543.2L168.24 542.21" stroke="#000" stroke-width="1.4" fill="none"/>
<path d="M196.04 536.46L196.04 533.26M196.04 536.46L199.08 535.47M196.04 536.46L197.92 539.05M196.04 536.46L194.16 539.05M196.04 536.46L193 535.47" stroke="#000" stroke-width="1.4" fill="none"/>
<path d="M220.8 514.56L220.8 511.36M220.8 514.56L223.84 513.57M220.8 514.56L222.68 517.15M220.8 514.56L218.92 517.15M220.8 514.56L217.76 513.57" stroke="#000" stroke-width="1.4" fill="none"/>
<path d="M245.56 543.59L245.56 540.39M245.56 543.59L248.6 542.6M245.56 543.59L247.44 546.18M245.56 543.59L243.68 546.18M245.56 543.59L242.52 542.6" stroke="#000" stroke-width="1.4" fill="none"/>
<path d="M295.08 538.62L295.08 535.42M295.08 538.62L298.12 537.63M295.08 538.62L296.96 541.21M295.08 538.62L293.2 541.21M295.08 538.62L292.04 537.63" stroke="#000" stroke-width="1.4" fill="none"/>
<path d="M319.84 541.48L319.84 538.28M319.84 541.48L322.88 540.49M319.84 541.48L321.72 544.07M319.84 541.48L317.96 544.07M319.84 541.48L316.8 540.49" stroke="#000" stroke-width="1.4" fill="none"/>
<path d="M369.36 544L369.36 540.8M369.36 544L372.4 543.01M369.36 544L371.24 546.59M369.36 544L367.48 546.59M369.36 544L366.32 543.01" stroke="#000" stroke-width="1.4" fill="none"/>
<path d="M394.12 547.82L394.12 544.62M394.12 547.82L397.16 546.83M394.12 547.82L396 550.41M394.12 547.82L392.24 550.41M394.12 547.82L391.08 546.83" stroke="#000" stroke-width="1.4" fill="none"/>
<path d="M493.16 561.18L493.16 557.98M493.16 561.18L496.2 560.19M493.16 561.18L495.04 563.77M493.16 561.18L491.28 563.77M493.16 561.18L490.12 560.19" stroke="#000" stroke-width="1.4" fill="none"/>
</g>
</svg>
</body>
</html>
